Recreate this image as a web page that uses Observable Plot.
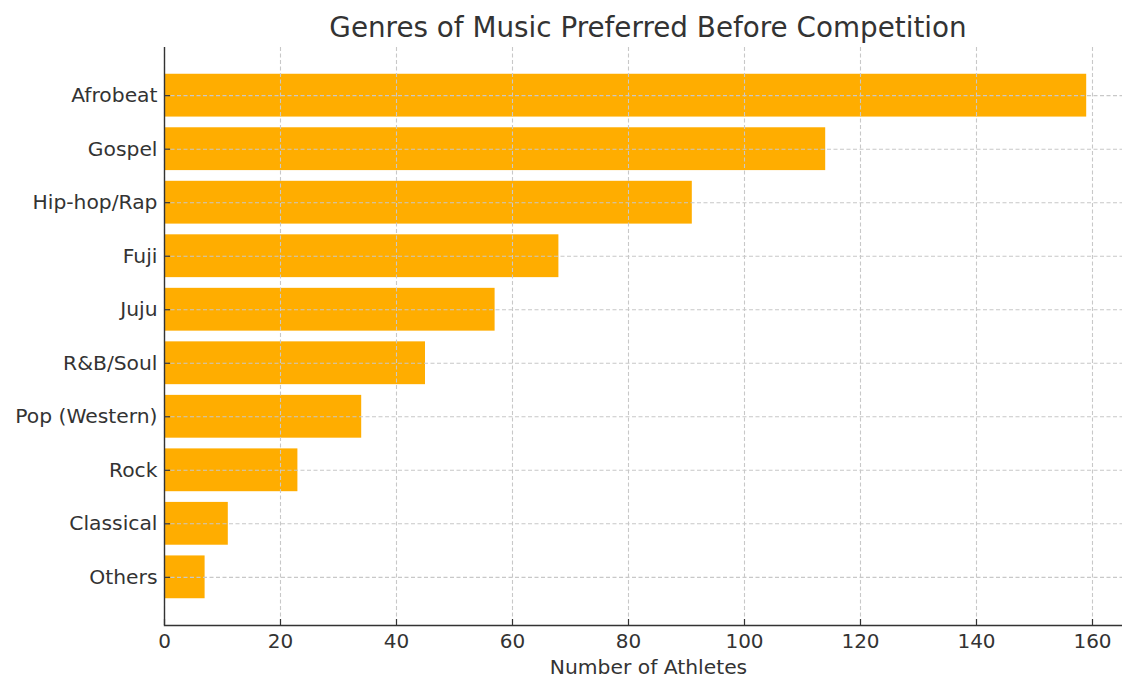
<!DOCTYPE html>
<html>
<head>
<meta charset="utf-8">
<script src="https://cdn.jsdelivr.net/npm/d3@7"></script>
<script src="https://cdn.jsdelivr.net/npm/@observablehq/plot@0.6"></script>
<style>
  html, body { margin: 0; padding: 0; background: #fff; }
  #title {
    box-sizing: border-box;
    width: 1122px; height: 47px;
    padding-left: 164px; padding-right: 0;
    font-family: "DejaVu Sans", sans-serif;
    font-size: 27.8px; color: #333;
    line-height: 56px;
    text-align: center;
    white-space: nowrap;
    overflow: visible;
  }
  #title span { display: inline-block; width: 968px; text-align: center; }
  #chart svg { display: block; }
</style>
</head>
<body>
<div id="title"><span>Genres of Music Preferred Before Competition</span></div>
<div id="chart"></div>
<script>
const genres = ["Afrobeat", "Gospel", "Hip-hop/Rap", "Fuji", "Juju", "R&B/Soul", "Pop (Western)", "Rock", "Classical", "Others"];
const athletes = [159, 114, 91, 68, 57, 45, 34, 23, 11, 7];
const xTicks = [0, 20, 40, 60, 80, 100, 120, 140, 160];
const xLabel = "Number of Athletes";

const data = genres.map((g, i) => ({genre: g, count: athletes[i]}));

const W = 1122, H = 630, ML = 164, MB = 52;
const plotH = H - MB;
const plotW = W - ML;

const chart = Plot.plot({
  width: W,
  height: H,
  marginLeft: ML,
  marginRight: 0,
  marginTop: 0,
  marginBottom: MB,
  style: {fontFamily: "DejaVu Sans, sans-serif", fontSize: "20px", color: "#333", background: "#fff", overflow: "visible"},
  x: {domain: [0, plotW / 5.8], ticks: xTicks},
  y: {domain: genres, paddingInner: 0.2, paddingOuter: 0.5, round: false},
  marks: [
    Plot.barX(data, {y: "genre", x: "count", fill: "#ffad00"}),
    Plot.gridX(xTicks, {stroke: "#c8c8c8", strokeOpacity: 1, strokeWidth: 1.1, strokeDasharray: "4,2.5"}),
    Plot.gridY(genres, {stroke: "#c8c8c8", strokeOpacity: 1, strokeWidth: 1.1, strokeDasharray: "4,2.5"}),
    Plot.tickX(xTicks, {x: d => d, stroke: "#333", strokeWidth: 1.2, insetTop: plotH - 6}),
    Plot.tickY(genres, {y: d => d, stroke: "#333", strokeWidth: 1.2, insetRight: plotW - 6}),
    Plot.ruleX([0], {stroke: "#333", strokeWidth: 1.4}),
    Plot.frame({anchor: "bottom", stroke: "#333", strokeWidth: 1.4}),
    Plot.axisX(xTicks, {tickSize: 0, tickPadding: 8, fontSize: 20, fill: "#333", label: null}),
    Plot.axisY({tickSize: 0, tickPadding: 7, fontSize: 20.3, fill: "#333", label: null}),
    Plot.text([xLabel], {frameAnchor: "bottom", dx: 5, dy: 42, fontSize: 20.3, fill: "#333", text: d => d, lineAnchor: "middle"})
  ]
});
document.getElementById("chart").appendChild(chart);
</script>
</body>
</html>
